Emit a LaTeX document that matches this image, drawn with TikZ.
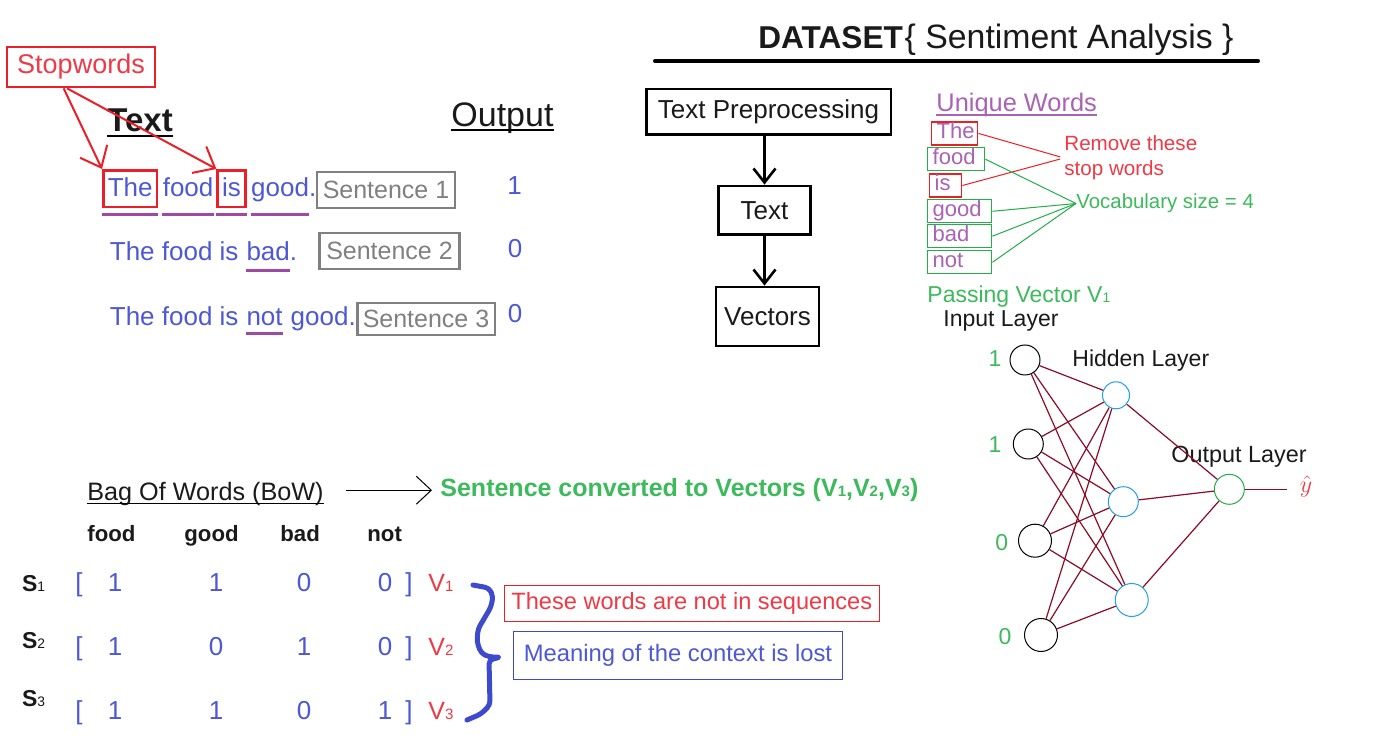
\documentclass[tikz,border=0pt]{standalone}
\usepackage{fontspec}
\setmainfont{Liberation Sans}
\usepackage{tikz}
\usetikzlibrary{arrows.meta,positioning}
\definecolor{txtblue}{RGB}{78,88,212}
\definecolor{braceblue}{RGB}{62,74,204}
\definecolor{ulpurple}{RGB}{160,72,165}
\definecolor{uwpurple}{RGB}{170,98,180}
\definecolor{stopred}{RGB}{236,30,40}
\definecolor{txtred}{RGB}{238,58,70}
\definecolor{boxgray}{RGB}{128,128,128}
\definecolor{vocgreen}{RGB}{60,186,92}
\definecolor{boxgreen}{RGB}{34,174,72}
\definecolor{edgered}{RGB}{138,12,38}
\definecolor{hidblue}{RGB}{30,160,230}
\definecolor{inkblack}{RGB}{26,26,26}
\newcommand{\fsz}[1]{\fontsize{#1pt}{#1pt}\selectfont}
\newcommand{\lowidx}[1]{\scalebox{0.6}{#1}}
\tikzset{word/.style={inner sep=0pt,font=\fsz{13},text=txtblue},
  stopword/.style={word,draw=stopred,line width=1.4pt,inner xsep=2.2pt,inner ysep=1.8pt,text height=11.5pt,text depth=3.2pt},
  ulmark/.style={draw=ulpurple,line width=1.5pt},
  sentbox/.style={draw=boxgray,text=boxgray,line width=1.3pt,inner sep=0pt,font=\fsz{12.5}},
  redframe/.style={draw=stopred,text=txtred,line width=1.4pt,inner sep=0pt,font=\fsz{13.5}},
  stoparrow/.style={draw=stopred,line width=1pt,-{Straight Barb[length=9pt,width=15pt]}},
  flowbox/.style={draw,line width=1.4pt,inner sep=0pt,font=\fsz{13},text=inkblack},
  flowarrow/.style={line width=1.3pt,-{Straight Barb[length=7pt,width=11pt]}},
  uword/.style={anchor=west,line width=0.7pt,inner xsep=2.5pt,inner ysep=0pt,text height=8pt,text depth=2.5pt,minimum height=11.5pt,align=left,font=\fsz{11},text=uwpurple},
  stopline/.style={draw=stopred,line width=0.5pt},
  vocline/.style={draw=boxgreen,line width=0.5pt},
  neuron/.style={circle,draw,line width=0.5pt,inner sep=0pt},
  nnedge/.style={draw=edgered,line width=0.6pt},
  layerlabel/.style={anchor=base west,inner sep=0pt,font=\fsz{11.5},text=inkblack},
  cell/.style={inner sep=0pt,anchor=base,font=\fsz{13},text=txtblue},
  thinarrow/.style={line width=0.5pt,-{Straight Barb[length=7.5pt,width=14pt]}},
  notebox/.style={line width=0.6pt,inner sep=0pt}}

\begin{document}
\begin{tikzpicture}[x=0.5pt,y=-0.5pt]
    \path[use as bounding box,fill=white] (0,0) rectangle (1386,742);

    % sentences and stop words
    \node[redframe,minimum width=74pt,minimum height=20pt] (stopw) at (81,67) {Stopwords};
    \node[anchor=base west,inner sep=0pt,font=\bfseries\fsz{16.5},text=inkblack] (hdtext) at (107,131.7) {Text};
    \draw[line width=1.25pt] ([yshift=-2.2pt]hdtext.base west) -- ([yshift=-2.2pt]hdtext.base east);
    \node[anchor=base west,inner sep=0pt,font=\fsz{17},text=inkblack] (hdout) at (451,127) {Output};
    \draw[line width=0.75pt] ([yshift=-1.5pt]hdout.base west) -- ([yshift=-1.5pt]hdout.base east);

    \node[stopword,anchor=base west] (w11) at (102,197) {The};
    \node[word,base right=2pt of w11] (w12) {food};
    \node[stopword,base right=1.3pt of w12] (w13) {is};
    \node[word,base right=2pt of w13] (w14) {good.};
    \foreach \w in {w11,w12,w13} {
      \draw[ulmark] ([yshift=-9pt]\w.base west) -- ([yshift=-9pt]\w.base east);
    }
    \draw[ulmark] ([yshift=-9pt]w14.base west) -- ([xshift=-3.6pt,yshift=-9pt]w14.base east);
    \node[sentbox,minimum width=69pt,minimum height=17.9pt] (sent1) at (386,190) {Sentence 1};
    \node[word] (out1) at (514.5,186) {1};

    \node[word,anchor=base west] (w21) at (109.5,261) {The food is};
    \node[word,base right=3.6pt of w21] (w22) {bad.};
    \draw[ulmark] ([yshift=-5pt]w22.base west) -- ([xshift=-3.6pt,yshift=-5pt]w22.base east);
    \node[sentbox,minimum width=70pt,minimum height=18pt] (sent2) at (389.5,251) {Sentence 2};
    \node[word] (out2) at (515,249) {0};

    \node[word,anchor=base west] (w31) at (109.5,326) {The food is};
    \node[word,base right=3.6pt of w31] (w32) {not};
    \node[word,base right=3.6pt of w32] (w33) {good.};
    \draw[ulmark] ([yshift=-4pt]w32.base west) -- ([yshift=-4pt]w32.base east);
    \node[sentbox,minimum width=68.8pt,minimum height=16pt] (sent3) at (426,319) {Sentence 3};
    \node[word] (out3) at (515,314) {0};

    \draw[stoparrow] (stopw.231) -- (w11.north west);
    \draw[stoparrow] (stopw.237) -- (w13.north west);

    % title
    \node[anchor=base west,inner sep=0pt,font=\bfseries\fsz{15.8},text=inkblack] (dsname) at (758,48.5) {DATASET};
    \node[base right=0.5pt of dsname,inner sep=0pt,font=\fsz{16.9},text=inkblack] (dstopic) {\{ Sentiment Analysis \}};
    \draw[line width=2pt,line cap=round] (655,61) -- (1258,61);

    % pipeline
    \node[flowbox,minimum width=122.4pt,minimum height=22.9pt] (prep) at (768.5,112) {Text Preprocessing};
    \node[flowbox,minimum width=46.2pt,minimum height=24.3pt] (ptext) at (764.5,210.3) {Text};
    \node[flowbox,minimum width=51.5pt,minimum height=29.5pt] (pvec) at (767.5,316.5) {Vectors};
    \draw[flowarrow] (prep.south -| ptext.north) -- (ptext.north);
    \draw[flowarrow] (ptext.south) -- (ptext.south |- pvec.north);

    % unique words
    \node[anchor=base west,inner sep=0pt,font=\fsz{12.7},text=uwpurple] (uwhead) at (936,112) {Unique Words};
    \draw[draw=uwpurple,line width=0.7pt] ([yshift=-1.6pt]uwhead.base west) -- ([yshift=-1.6pt]uwhead.base east);
    \foreach \nm/\bw/\xx/\yy/\col in {The/18/931/133.4/stopred,food/23.5/927/159.2/boxgreen,is/11/929/185.5/stopred,good/27/927/211.3/boxgreen,bad/27/927/236.2/boxgreen,not/27/927/262.3/boxgreen} {
      \node[uword,draw=\col,text width=\bw pt] (uw\nm) at (\xx,\yy) {\nm};
    }
    \node[anchor=west,inner sep=0pt,align=left,font=\fontsize{10.3pt}{12.5pt}\selectfont,text=txtred] (rmv) at (1064,158) {Remove these\\stop words};
    \draw[stopline,shorten >=2pt] (uwThe.east) -- (rmv.west);
    \draw[stopline,shorten >=2pt] (uwis.east) -- (rmv.west);
    \node[anchor=west,inner sep=0pt,font=\fsz{10.2},text=vocgreen] (vocab) at (1076,203.5) {Vocabulary size = 4};
    \foreach \nm in {food,good,bad,not} {
      \draw[vocline] (uw\nm.east) -- (vocab.west);
    }
    \node[anchor=base west,inner sep=0pt,font=\fsz{11.5},text=vocgreen] (passv) at (927,302.7) {Passing Vector V\lowidx{1}};

    % network
    \node[layerlabel] (inlab) at (943,326.7) {Input Layer};
    \node[layerlabel] (hidlab) at (1072,366.7) {Hidden Layer};
    \node[layerlabel,font=\fsz{11.7}] (outlab) at (1171,462.7) {Output Layer};
    \foreach \i/\xx/\yy/\sz/\inval/\lx/\ly in {1/1025/360/15/1/995/359,2/1028.3/444/15/1/995/445,3/1035/540.7/16.5/0/1001.7/543,4/1041/635/16.5/0/1005/636.7} {
      \node[neuron,minimum size=\sz pt] (in\i) at (\xx,\yy) {};
      \node[font=\fsz{11.5},text=vocgreen] (inv\i) at (\lx,\ly) {\inval};
    }
    \foreach \j/\xx/\yy/\sz in {1/1116/395.3/13.5,2/1123.3/501.7/15,3/1131.7/600/16.5} {
      \node[neuron,draw=hidblue,minimum size=\sz pt] (hid\j) at (\xx,\yy) {};
    }
    \node[neuron,draw=boxgreen,minimum size=15pt] (outn) at (1229.3,489.3) {};
    \foreach \i in {1,...,4} {
      \foreach \j in {1,2,3} {
        \draw[nnedge] (in\i) -- (hid\j);
      }
    }
    \foreach \j in {1,2,3} {
      \draw[nnedge] (hid\j) -- (outn);
    }
    \node[text=txtred,font=\fsz{12}] (yhat) at (1306,487) {$\hat{y}$};
    \draw[nnedge,shorten >=3pt] (outn) -- (yhat.west |- outn);

    % bag of words
    \node[anchor=base west,inner sep=0pt,font=\fsz{12.6},text=inkblack] (bow) at (87,500.7) {Bag Of Words (BoW)};
    \draw[line width=0.5pt] ([yshift=-1.3pt]bow.base west) -- ([yshift=-1.3pt]bow.base east);
    \node[anchor=base west,inner sep=0pt,font=\bfseries\fsz{12.5},text=vocgreen] (conv) at (440,496.7) {Sentence converted to Vectors (V\lowidx{1},V\lowidx{2},V\lowidx{3})};
    \draw[thinarrow,shorten <=11pt,shorten >=4pt] (bow.east |- conv.west) -- (conv.west);

    \foreach \hw/\hx in {food/87,good/184,bad/280,not/367} {
      \node[anchor=base west,inner sep=0pt,font=\bfseries\fsz{11.1},text=inkblack] (hd\hw) at (\hx,541.7) {\hw};
    }
    \foreach \rw/\yb/\ys/\va/\vb/\vc/\vd in {1/591.7/591.7/1/1/0/0,2/655/648.3/1/0/1/0,3/719.3/706.7/1/1/0/1} {
      \node[anchor=base west,inner sep=0pt,font=\bfseries\fsz{11.5},text=inkblack] (s\rw) at (21.7,\ys) {S\lowidx{\mdseries\rw}};
      \node[cell,anchor=base west] (lb\rw) at (75,\yb) {[};
      \node[cell] (c\rw a) at (115,\yb) {\va};
      \node[cell] (c\rw b) at (216,\yb) {\vb};
      \node[cell] (c\rw c) at (304,\yb) {\vc};
      \node[cell] (c\rw d) at (385,\yb) {\vd};
      \node[cell] (rb\rw) at (409,\yb) {]};
      \node[anchor=base west,inner sep=0pt,font=\fsz{12.5},text=txtred] (vl\rw) at (428,\yb) {V\lowidx{\rw}};
    }

    % brace and notes
    \draw[draw=braceblue,line width=2.5pt,line join=round,line cap=round,rounded corners=2pt] (473,585) -- (489,588) -- (493,596) -- (491,607) -- (478,629) -- (477,642) -- (481,653) -- (489,657) -- (501,657) -- (489,660) -- (490,705) -- (481,714) -- (467,720);
    \node[notebox,draw=stopred,text=txtred,minimum width=187.5pt,minimum height=17.7pt,font=\fsz{11.8}] (seqnote) at (691.8,603.4) {These words are not in sequences};
    \node[notebox,draw=braceblue,text=txtblue,minimum width=164.7pt,minimum height=23.8pt,font=\fsz{11.9}] (ctxnote) at (678,655.5) {Meaning of the context is lost};
  \end{tikzpicture}
\end{document}
